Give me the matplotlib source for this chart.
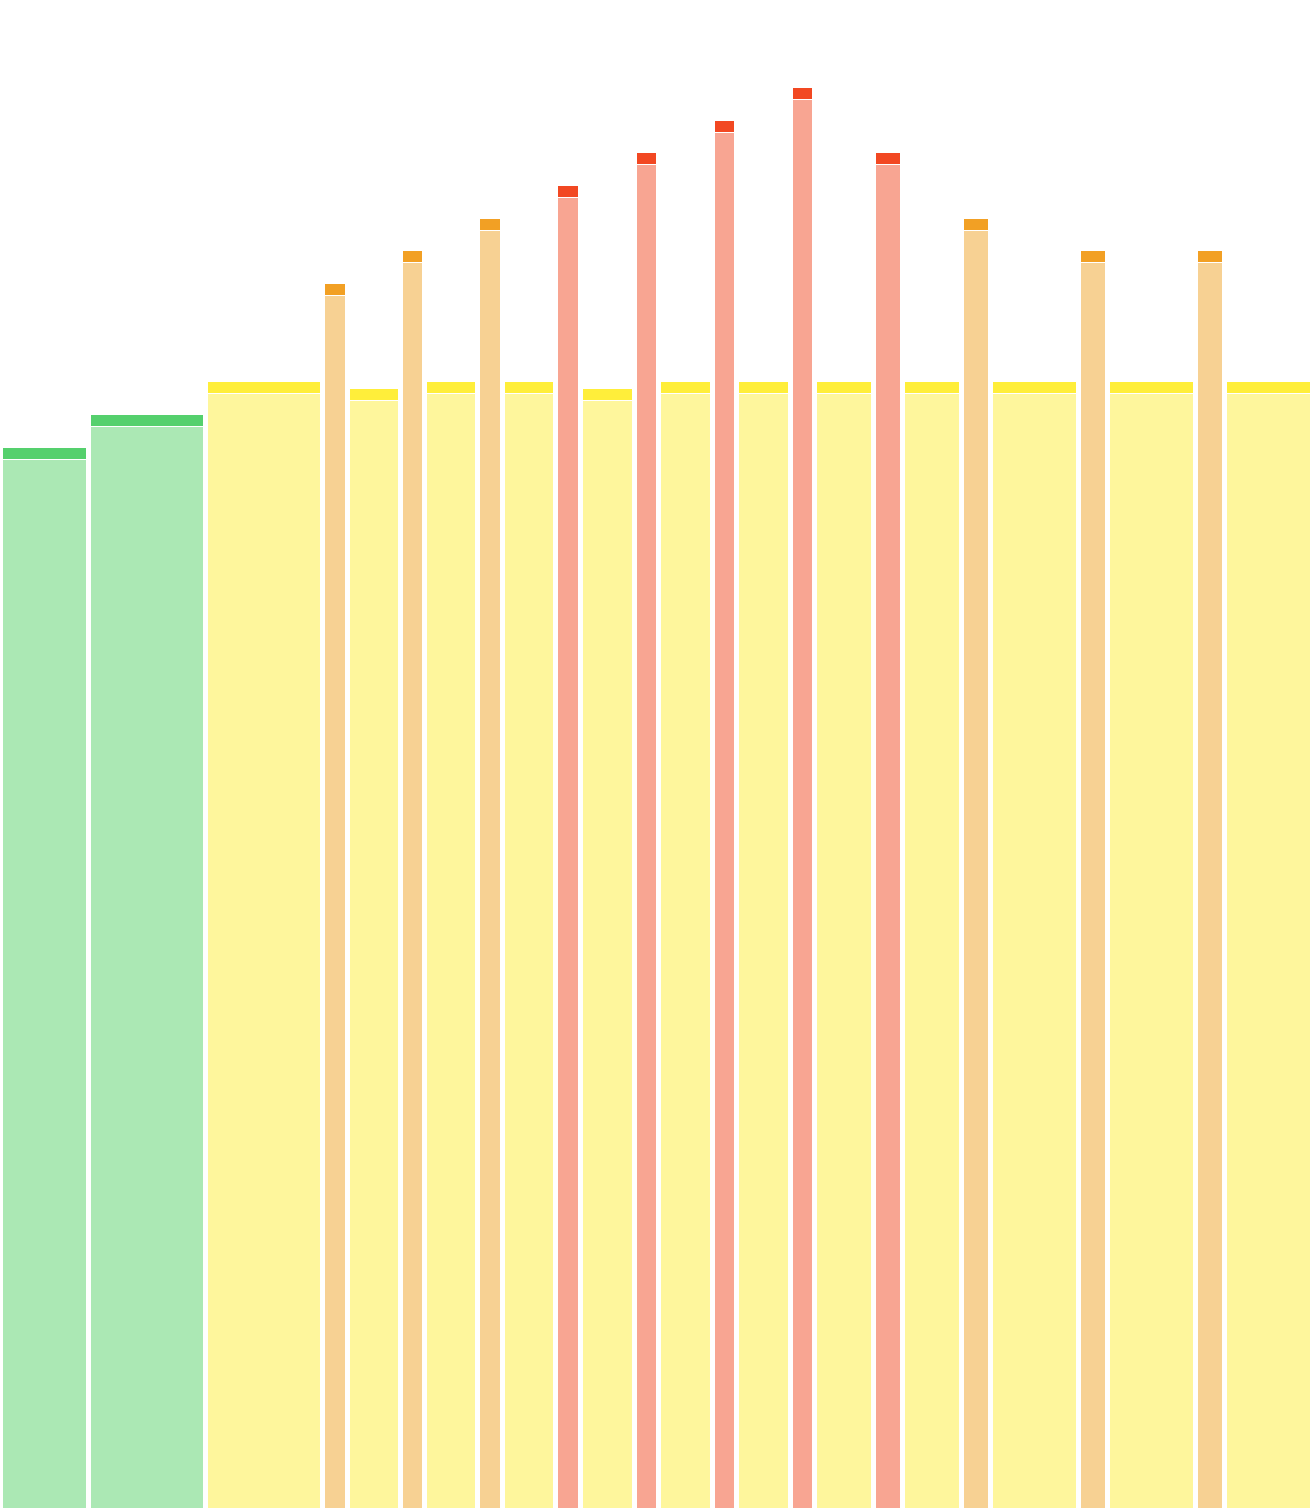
import numpy as np
import matplotlib.pyplot as plt

# Breiten und Hoehen der Balken
widths = [88, 117, 117, 25, 53, 24, 53, 25, 53, 25, 53.5, 24.5, 53.5, 24.5,
          54, 24, 59, 29, 59, 29, 88, 29, 88, 29, 88]
values = [1060, 1093, 1126, 1224, 1119, 1257, 1126, 1289, 1126, 1322, 1119, 1355,
          1126, 1387, 1126, 1420, 1126, 1355, 1126, 1289, 1126, 1257, 1126, 1257, 1126]
groups = ["green", "green", "yellow", "orange", "yellow", "orange", "yellow", "orange",
          "yellow", "red", "yellow", "red", "yellow", "red", "yellow", "red", "yellow",
          "red", "yellow", "orange", "yellow", "orange", "yellow", "orange", "yellow"]

cap_colors = {"green": "#55D06D", "yellow": "#FFEE3A", "orange": "#F2A024", "red": "#F24822"}
body_colors = {"green": "#ABE8B4", "yellow": "#FEF69C", "orange": "#F7D193", "red": "#F8A592"}

gap = 5
cap = 10.5
sep = 1.5

fig = plt.figure(figsize=(13.12, 15.08), dpi=100)
ax = fig.add_axes([0, 0, 1, 1])

lefts = np.concatenate([[0.5], 0.5 + np.cumsum(widths)[:-1]])
for x, w, v, g in zip(lefts, widths, values, groups):
    ax.bar(x + gap / 2, v - cap - sep, width=w - gap, align="edge",
           color=body_colors[g], linewidth=0)
    ax.bar(x + gap / 2, cap, width=w - gap, bottom=v - cap, align="edge",
           color=cap_colors[g], linewidth=0)

ax.set_xlim(0, 1312)
ax.set_ylim(0, 1508)
ax.axis("off")

fig.savefig("out.png", dpi=100)
